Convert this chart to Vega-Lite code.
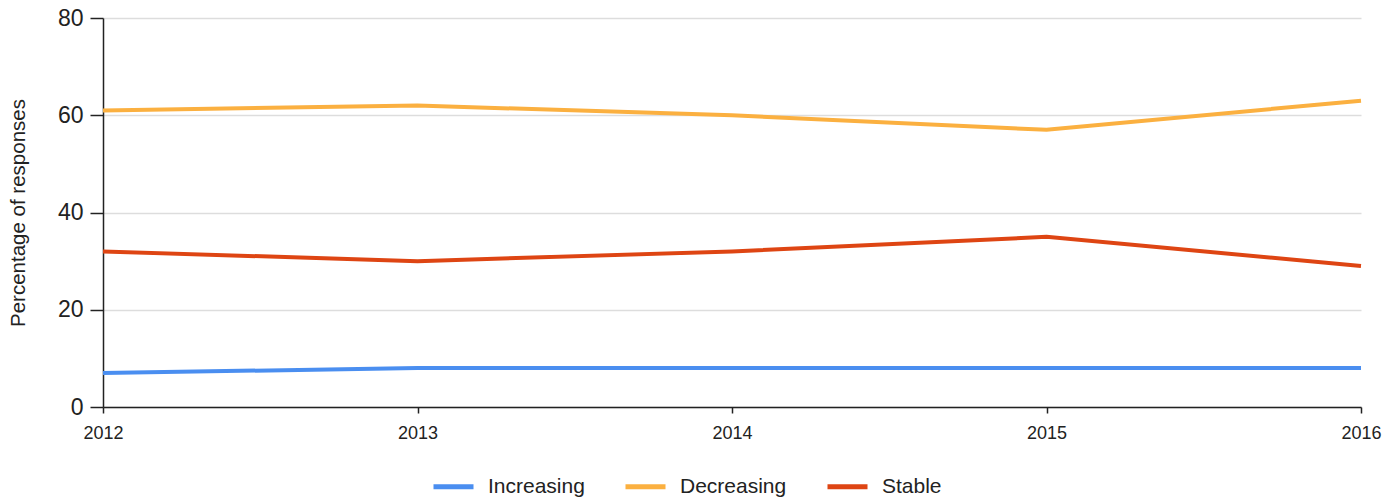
{
  "$schema": "https://vega.github.io/schema/vega-lite/v6.json",
  "autosize": {"type": "none"},
  "width": 1258,
  "height": 389,
  "padding": {"left": 103, "top": 18, "right": 34, "bottom": 94},
  "background": "white",
  "config": {"font": "Liberation Sans", "view": {"stroke": null}},
  "data": {"values": [
    {"year": 2012, "series": "Increasing", "value": 7},
    {"year": 2013, "series": "Increasing", "value": 8},
    {"year": 2014, "series": "Increasing", "value": 8},
    {"year": 2015, "series": "Increasing", "value": 8},
    {"year": 2016, "series": "Increasing", "value": 8},
    {"year": 2012, "series": "Decreasing", "value": 61},
    {"year": 2013, "series": "Decreasing", "value": 62},
    {"year": 2014, "series": "Decreasing", "value": 60},
    {"year": 2015, "series": "Decreasing", "value": 57},
    {"year": 2016, "series": "Decreasing", "value": 63},
    {"year": 2012, "series": "Stable", "value": 32},
    {"year": 2013, "series": "Stable", "value": 30},
    {"year": 2014, "series": "Stable", "value": 32},
    {"year": 2015, "series": "Stable", "value": 35},
    {"year": 2016, "series": "Stable", "value": 29}
  ]},
  "mark": {"type": "line", "strokeWidth": 4},
  "encoding": {
    "x": {"field": "year", "type": "quantitative",
      "scale": {"domain": [2012, 2016], "nice": false, "zero": false},
      "axis": {"values": [2012, 2013, 2014, 2015, 2016], "format": "d", "title": null, "grid": false,
        "labelFlush": false, "labelAlign": "center",
        "domainColor": "#222", "domainWidth": 1.5, "tickColor": "#222", "tickSize": 6, "tickWidth": 1.5,
        "labelFontSize": 18, "labelColor": "#222", "labelPadding": 11}},
    "y": {"field": "value", "type": "quantitative",
      "scale": {"domain": [0, 80], "nice": false},
      "axis": {"values": [0, 20, 40, 60, 80], "title": "Percentage of responses", "titleFontSize": 20.5,
        "titleFontWeight": "normal", "titleColor": "#222", "titlePadding": 29,
        "grid": true, "gridColor": "#dddddd", "gridWidth": 1.5,
        "domainColor": "#222", "domainWidth": 1.5, "tickColor": "#222", "tickSize": 13, "tickWidth": 1.5,
        "labelFontSize": 23, "labelColor": "#222", "labelPadding": 7}},
    "color": {"field": "series", "type": "nominal",
      "scale": {"domain": ["Increasing", "Decreasing", "Stable"], "range": ["#4a8ef0", "#fbb040", "#de4513"]},
      "legend": {"orient": "none", "legendX": 328, "legendY": 446, "direction": "horizontal", "title": null,
        "symbolType": "stroke", "symbolSize": 1600, "symbolStrokeWidth": 5,
        "labelFontSize": 21, "labelColor": "#222", "columnPadding": 30, "labelOffset": 12}}
  }
}
